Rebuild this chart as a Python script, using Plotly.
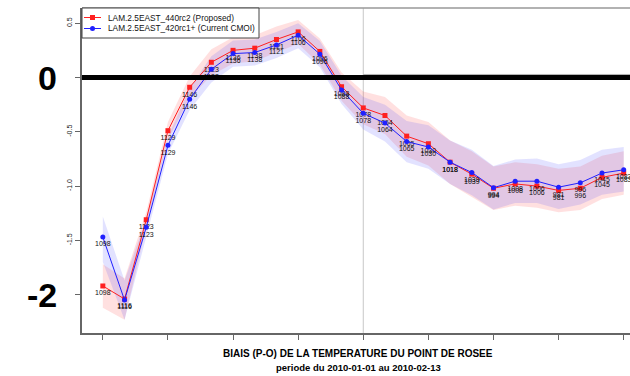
import plotly.graph_objects as go

steps = list(range(25))

red_vals = [-1.92, -2.04, -1.31, -0.49, -0.09, 0.14, 0.25, 0.27, 0.35, 0.42, 0.24, -0.085, -0.28,
            -0.35, -0.54, -0.61, -0.78, -0.89, -1.02, -0.98, -1.0, -1.04, -1.02, -0.92, -0.88]
blue_vals = [-1.47, -2.05, -1.38, -0.625, -0.20, 0.075, 0.22, 0.23, 0.30, 0.39, 0.215, -0.115, -0.33,
             -0.42, -0.59, -0.64, -0.78, -0.875, -1.015, -0.955, -0.955, -1.01, -0.97, -0.88, -0.85]

red_hi = [-1.72, -1.85, -1.24, -0.41, 0.01, 0.26, 0.37, 0.39, 0.47, 0.53, 0.36, 0.045, -0.13,
          -0.18, -0.35, -0.41, -0.58, -0.68, -0.82, -0.78, -0.80, -0.84, -0.82, -0.72, -0.68]
red_lo = [-2.12, -2.23, -1.38, -0.57, -0.19, 0.02, 0.13, 0.15, 0.23, 0.31, 0.12, -0.215, -0.43,
          -0.52, -0.73, -0.81, -0.98, -1.10, -1.22, -1.18, -1.20, -1.24, -1.22, -1.12, -1.08]
blue_hi = [-1.28, -1.87, -1.30, -0.545, -0.10, 0.195, 0.34, 0.35, 0.42, 0.50, 0.335, 0.015, -0.18,
           -0.25, -0.40, -0.44, -0.58, -0.665, -0.815, -0.755, -0.745, -0.80, -0.76, -0.665, -0.64]
blue_lo = [-1.70, -2.23, -1.46, -0.705, -0.30, -0.045, 0.10, 0.11, 0.18, 0.27, 0.095, -0.245, -0.48,
           -0.59, -0.78, -0.84, -0.98, -1.085, -1.215, -1.155, -1.155, -1.21, -1.17, -1.08, -1.05]

red_counts = [1098, 1116, 1123, 1129, 1146, 1123, 1136, 1138, 1121, 1106, 1096, 1088, 1078,
              1064, 1065, 1030, 1018, 1039, 994, 1008, 1006, 981, 996, 1045, 1083]
blue_counts = [1098, 1116, 1123, 1129, 1146, 1123, 1136, 1138, 1121, 1106, 1096, 1088, 1078,
               1064, 1065, 1030, 1018, 1039, 994, 1008, 1006, 981, 996, 1045, 1083]

red_name = "LAM.2.5EAST_440rc2 (Proposed)"
blue_name = "LAM.2.5EAST_420rc1+ (Current CMOI)"
y_tickvals = [0.5, 0, -0.5, -1.0, -1.5, -2]
y_ticktext = ["0.5", "", "-0.5", "-1.0", "-1.5", ""]
x_tickvals = [0, 3, 6, 9, 12, 15, 18, 21, 24]

FONT = "Liberation Sans, Arial, sans-serif"
RED = "#ff2020"
BLUE = "#2020ff"

# plot-area geometry in pixels (for paper-coordinate helpers)
L, T, W, H = 82, 8, 548, 325


def px(xp):
    return (xp - L) / W


def py(yp):
    return (T + H - yp) / H


fig = go.Figure()

# bands
fig.add_trace(go.Scatter(x=steps + steps[::-1], y=red_hi + red_lo[::-1], fill="toself",
                         fillcolor="rgba(255,50,50,0.15)", line=dict(width=0),
                         hoverinfo="skip", showlegend=False))
fig.add_trace(go.Scatter(x=steps + steps[::-1], y=blue_hi + blue_lo[::-1], fill="toself",
                         fillcolor="rgba(50,50,255,0.14)", line=dict(width=0),
                         hoverinfo="skip", showlegend=False))

fig.add_trace(go.Scatter(x=steps, y=red_vals, mode="lines+markers+text", name=red_name,
                         line=dict(color=RED, width=1),
                         marker=dict(symbol="square", size=5, color=RED),
                         text=[str(c) for c in red_counts], textposition="bottom center",
                         textfont=dict(size=7, color="#111", family=FONT), showlegend=False))
fig.add_trace(go.Scatter(x=steps, y=blue_vals, mode="lines+markers+text", name=blue_name,
                         line=dict(color=BLUE, width=1),
                         marker=dict(symbol="circle", size=5, color=BLUE),
                         text=[str(c) for c in blue_counts], textposition="bottom center",
                         textfont=dict(size=7, color="#111", family=FONT), showlegend=False))

# vertical grey line
fig.add_shape(type="line", xref="x", yref="paper", x0=12, x1=12, y0=0, y1=1,
              line=dict(color="#c8c8c8", width=1), layer="below")
# faint grey zero line
fig.add_shape(type="line", xref="x", yref="y", x0=12, x1=25, y0=0.028, y1=0.028,
              line=dict(color="#b0b0b0", width=1), layer="below")
# thick black zero line
fig.add_shape(type="line", xref="paper", yref="y", x0=0, x1=1, y0=0, y1=0,
              line=dict(color="black", width=5), layer="above")
# top border
fig.add_shape(type="line", xref="paper", yref="paper", x0=0, x1=1, y0=1, y1=1,
              line=dict(color="#999", width=1.5), layer="above")

# manual legend (box, line samples, symbols, text)
fig.add_shape(type="rect", xref="paper", yref="paper", x0=px(82), x1=px(259), y0=py(38), y1=py(8),
              line=dict(color="#444", width=1), fillcolor="white", layer="above")
for row_y, col, sym, label in [(17.5, RED, "square", red_name), (28.5, BLUE, "circle", blue_name)]:
    fig.add_shape(type="line", xref="paper", yref="paper", x0=px(84), x1=px(101),
                  y0=py(row_y), y1=py(row_y), line=dict(color=col, width=1), layer="above")
    fig.add_shape(type=("rect" if sym == "square" else "circle"), xref="paper", yref="paper",
                  x0=px(90), x1=px(95), y0=py(row_y + 2.5), y1=py(row_y - 2.5),
                  line=dict(color=col, width=0), fillcolor=col, layer="above")
    fig.add_annotation(text=label, xref="paper", yref="paper", x=px(106), y=py(row_y),
                       xanchor="left", yanchor="middle", showarrow=False,
                       font=dict(size=8.3, color="#111", family=FONT))

fig.add_annotation(text="<b>0</b>", xref="paper", yref="y", x=px(47), y=0, showarrow=False,
                   xanchor="center", yanchor="middle", font=dict(size=34, color="black", family=FONT))
fig.add_annotation(text="<b>-2</b>", xref="paper", yref="y", x=px(42), y=-2, showarrow=False,
                   xanchor="center", yanchor="middle", font=dict(size=34, color="black", family=FONT))

fig.add_annotation(text="<b>BIAIS (P-O) DE LA TEMPERATURE DU POINT DE ROSEE</b>", xref="paper", yref="paper",
                   x=px(358), y=py(354), showarrow=False, xanchor="center", yanchor="middle",
                   font=dict(size=10, color="black", family=FONT))
fig.add_annotation(text="<b>periode du 2010-01-01 au 2010-02-13</b>", xref="paper", yref="paper",
                   x=px(358), y=py(367), showarrow=False, xanchor="center", yanchor="middle",
                   font=dict(size=9.5, color="black", family=FONT))

fig.update_layout(
    width=630, height=376,
    margin=dict(l=82, r=0, t=8, b=43),
    paper_bgcolor="white", plot_bgcolor="white",
    font=dict(family=FONT, color="#222"),
    showlegend=False,
    xaxis=dict(range=[-0.96, 24.29], tickvals=x_tickvals, ticktext=[""] * len(x_tickvals),
               ticks="outside", ticklen=5, tickcolor="#666", showline=True, linecolor="#666",
               linewidth=1.5, showgrid=False, zeroline=False),
    yaxis=dict(range=[-2.353, 0.64], tickvals=y_tickvals, ticktext=y_ticktext, tickangle=-90,
               ticks="outside", ticklen=5, tickcolor="#666", showline=True, linecolor="#666",
               linewidth=1.5, showgrid=False, zeroline=False, tickfont=dict(size=7, color="#222")),
)

fig.write_html("out.html")
